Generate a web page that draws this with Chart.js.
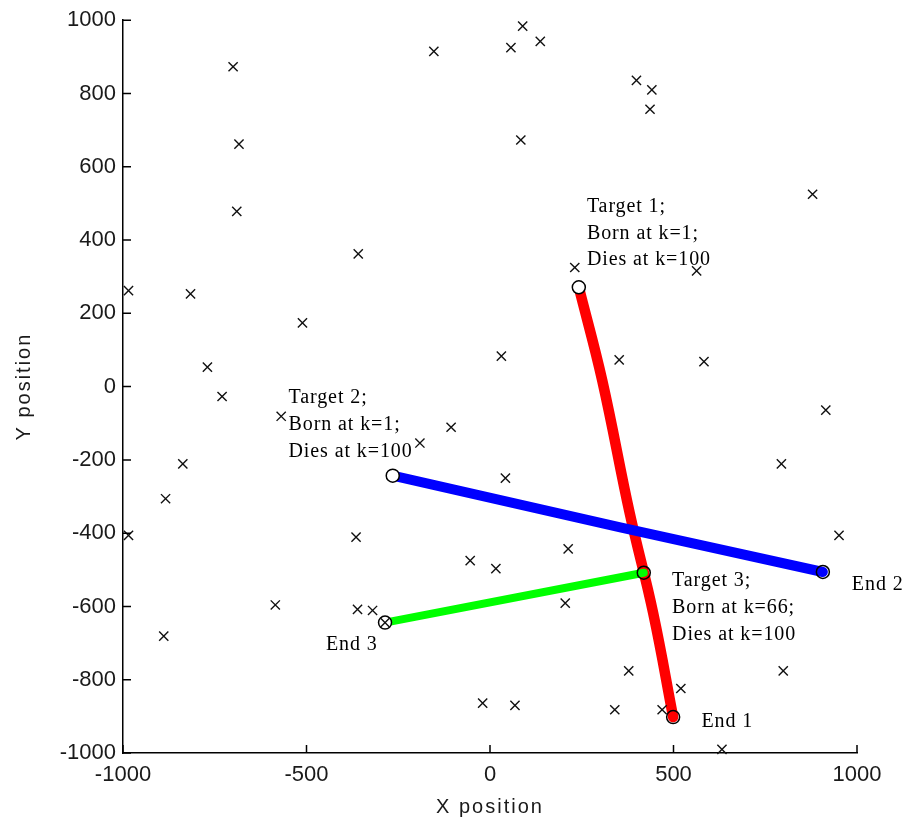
<!DOCTYPE html>
<html><head><meta charset="utf-8">
<script src="https://cdn.jsdelivr.net/npm/chart.js@4.4.0/dist/chart.umd.min.js"></script>
<style>html,body{margin:0;padding:0;background:#fff;overflow:hidden}#wrap{width:907px;height:826px}</style>
</head><body><div id="wrap"><canvas id="c" width="907" height="826"></canvas></div>
<script>
// ---- data ----
const clutterX = [-153,-700,-684,-690,-359,-985,-816,89,57,137,399,441,436,84,879,231,563,-511,-770,-730,-569,-106,-191,-837,-884,-985,-365,31,352,583,915,794,42,951,213,-54,16,-585,-361,-320,-889,-20,205,378,799,520,340,469,68,632,-286];
const clutterY = [915,873,662,478,362,262,253,984,925,942,836,810,757,673,525,325,316,174,53,-27,-81,-111,-154,-211,-306,-406,-411,83,73,68,-64,-211,-250,-406,-443,-475,-497,-596,-608,-611,-681,-864,-591,-776,-776,-824,-882,-882,-870,-990,-644];
const track1X = [242, 306, 381, 445, 499];
const track1Y = [271, 16, -347, -620, -902];
const track2X = [-265, 355, 907];
const track2Y = [-243, -384, -506];
const track3X = [419, -286];
const track3Y = [-508, -644];
const xTickValues = [-1000, -500, 0, 500, 1000];
const yTickValues = [-1000, -800, -600, -400, -200, 0, 200, 400, 600, 800, 1000];
const xTitle = 'X position';
const yTitle = 'Y position';
const noteLines = [
  ['Target 1;', 'Born at k=1;', 'Dies at k=100'],
  ['Target 2;', 'Born at k=1;', 'Dies at k=100'],
  ['Target 3;', 'Born at k=66;', 'Dies at k=100'],
  ['End 1'],
  ['End 2'],
  ['End 3']
];
const noteAnchorX = [264, -549, 496, 576, 986, -447];
const noteAnchorY = [477, -45.5, -544.6, -929, -556, -720];

// ---- build ----
const pts = (xs, ys) => xs.map((v, i) => ({x: v, y: ys[i]}));
const tracks = [[track1X, track1Y], [track2X, track2Y], [track3X, track3Y]];
const endPoints = [];
tracks.forEach(([xs, ys]) => {
  endPoints.push({x: xs[0], y: ys[0]});
  endPoints.push({x: xs[xs.length - 1], y: ys[ys.length - 1]});
});
// fill of each end circle: start of T1, end of T1, start of T2, end of T2, start of T3, end of T3
const circleFill = ['#fff', 'rgba(0,0,0,0)', '#fff', 'rgba(0,0,0,0)', 'rgba(0,0,0,0)', '#fff'];

const innerTicks = {
  id: 'innerTicks',
  afterDraw(chart) {
    const {ctx, chartArea: a, scales: {x, y}} = chart;
    ctx.save();
    ctx.strokeStyle = '#000';
    ctx.lineWidth = 1.5;
    ctx.beginPath();
    x.ticks.forEach(t => { const p = x.getPixelForValue(t.value); ctx.moveTo(p, a.bottom); ctx.lineTo(p, a.bottom - 8); });
    y.ticks.forEach(t => { const p = y.getPixelForValue(t.value); ctx.moveTo(a.left, p); ctx.lineTo(a.left + 8, p); });
    ctx.stroke();
    // axis titles
    ctx.fillStyle = '#1a1a1a';
    ctx.font = '20px "Liberation Sans", Arial, sans-serif';
    try { ctx.letterSpacing = '2px'; } catch (e) {}
    ctx.textAlign = 'center';
    ctx.textBaseline = 'middle';
    ctx.fillText(xTitle, (a.left + a.right) / 2, 807.7);
    ctx.save();
    ctx.translate(24.4, (a.top + a.bottom) / 2);
    ctx.rotate(-Math.PI / 2);
    ctx.fillText(yTitle, 0, 0);
    ctx.restore();
    // annotations
    ctx.fillStyle = '#000';
    ctx.font = '20px "Liberation Serif", "Times New Roman", serif';
    try { ctx.letterSpacing = '0.9px'; } catch (e) {}
    ctx.textAlign = 'left';
    ctx.textBaseline = 'alphabetic';
    noteLines.forEach((lines, i) => {
      const px = x.getPixelForValue(noteAnchorX[i]);
      const py = y.getPixelForValue(noteAnchorY[i]);
      lines.forEach((s, j) => ctx.fillText(s, px, py + j * 26.7));
    });
    ctx.restore();
  }
};

const tickFont = {family: '"Liberation Sans", Arial, sans-serif', size: 22};
const plainLabel = v => String(v);

new Chart(document.getElementById('c'), {
  type: 'scatter',
  data: {
    datasets: [
      {data: pts(clutterX, clutterY), pointStyle: 'crossRot', pointRadius: 6.5, borderColor: '#111', borderWidth: 1.4, clip: false},
      {data: endPoints, pointStyle: 'circle', pointRadius: 6.5, borderColor: '#000', borderWidth: 1.5, backgroundColor: circleFill, clip: false},
      {data: pts(track3X, track3Y), showLine: true, borderColor: '#00ff00', borderWidth: 8, pointRadius: 0, borderCapStyle: 'round', borderJoinStyle: 'round'},
      {data: pts(track2X, track2Y), showLine: true, borderColor: '#0000ff', borderWidth: 10, pointRadius: 0, borderCapStyle: 'round', borderJoinStyle: 'round'},
      {data: pts(track1X, track1Y), showLine: true, tension: 0.4, borderColor: '#ff0000', borderWidth: 10.5, pointRadius: 0, borderCapStyle: 'round', borderJoinStyle: 'round'}
    ]
  },
  options: {
    responsive: false,
    animation: false,
    devicePixelRatio: 1,
    layout: {padding: {top: 19, right: 50, left: 0, bottom: 0}},
    plugins: {legend: {display: false}, tooltip: {enabled: false}},
    scales: {
      x: {
        type: 'linear', min: -1000, max: 1000,
        afterBuildTicks: s => { s.ticks = xTickValues.map(v => ({value: v})); },
        afterFit: s => { s.height = 73; },
        grid: {display: true, drawOnChartArea: false, drawTicks: false},
        border: {display: true, color: '#000', width: 1.5},
        ticks: {font: tickFont, color: '#1a1a1a', padding: 9, maxRotation: 0, autoSkip: false, callback: plainLabel}
      },
      y: {
        type: 'linear', min: -1000, max: 1000,
        afterBuildTicks: s => { s.ticks = yTickValues.map(v => ({value: v})); },
        afterFit: s => { s.width = 123; },
        grid: {display: true, drawOnChartArea: false, drawTicks: false},
        border: {display: true, color: '#000', width: 1.5},
        ticks: {font: tickFont, color: '#1a1a1a', padding: 7, autoSkip: false, callback: plainLabel}
      }
    }
  },
  plugins: [innerTicks]
});
</script>
</body></html>
